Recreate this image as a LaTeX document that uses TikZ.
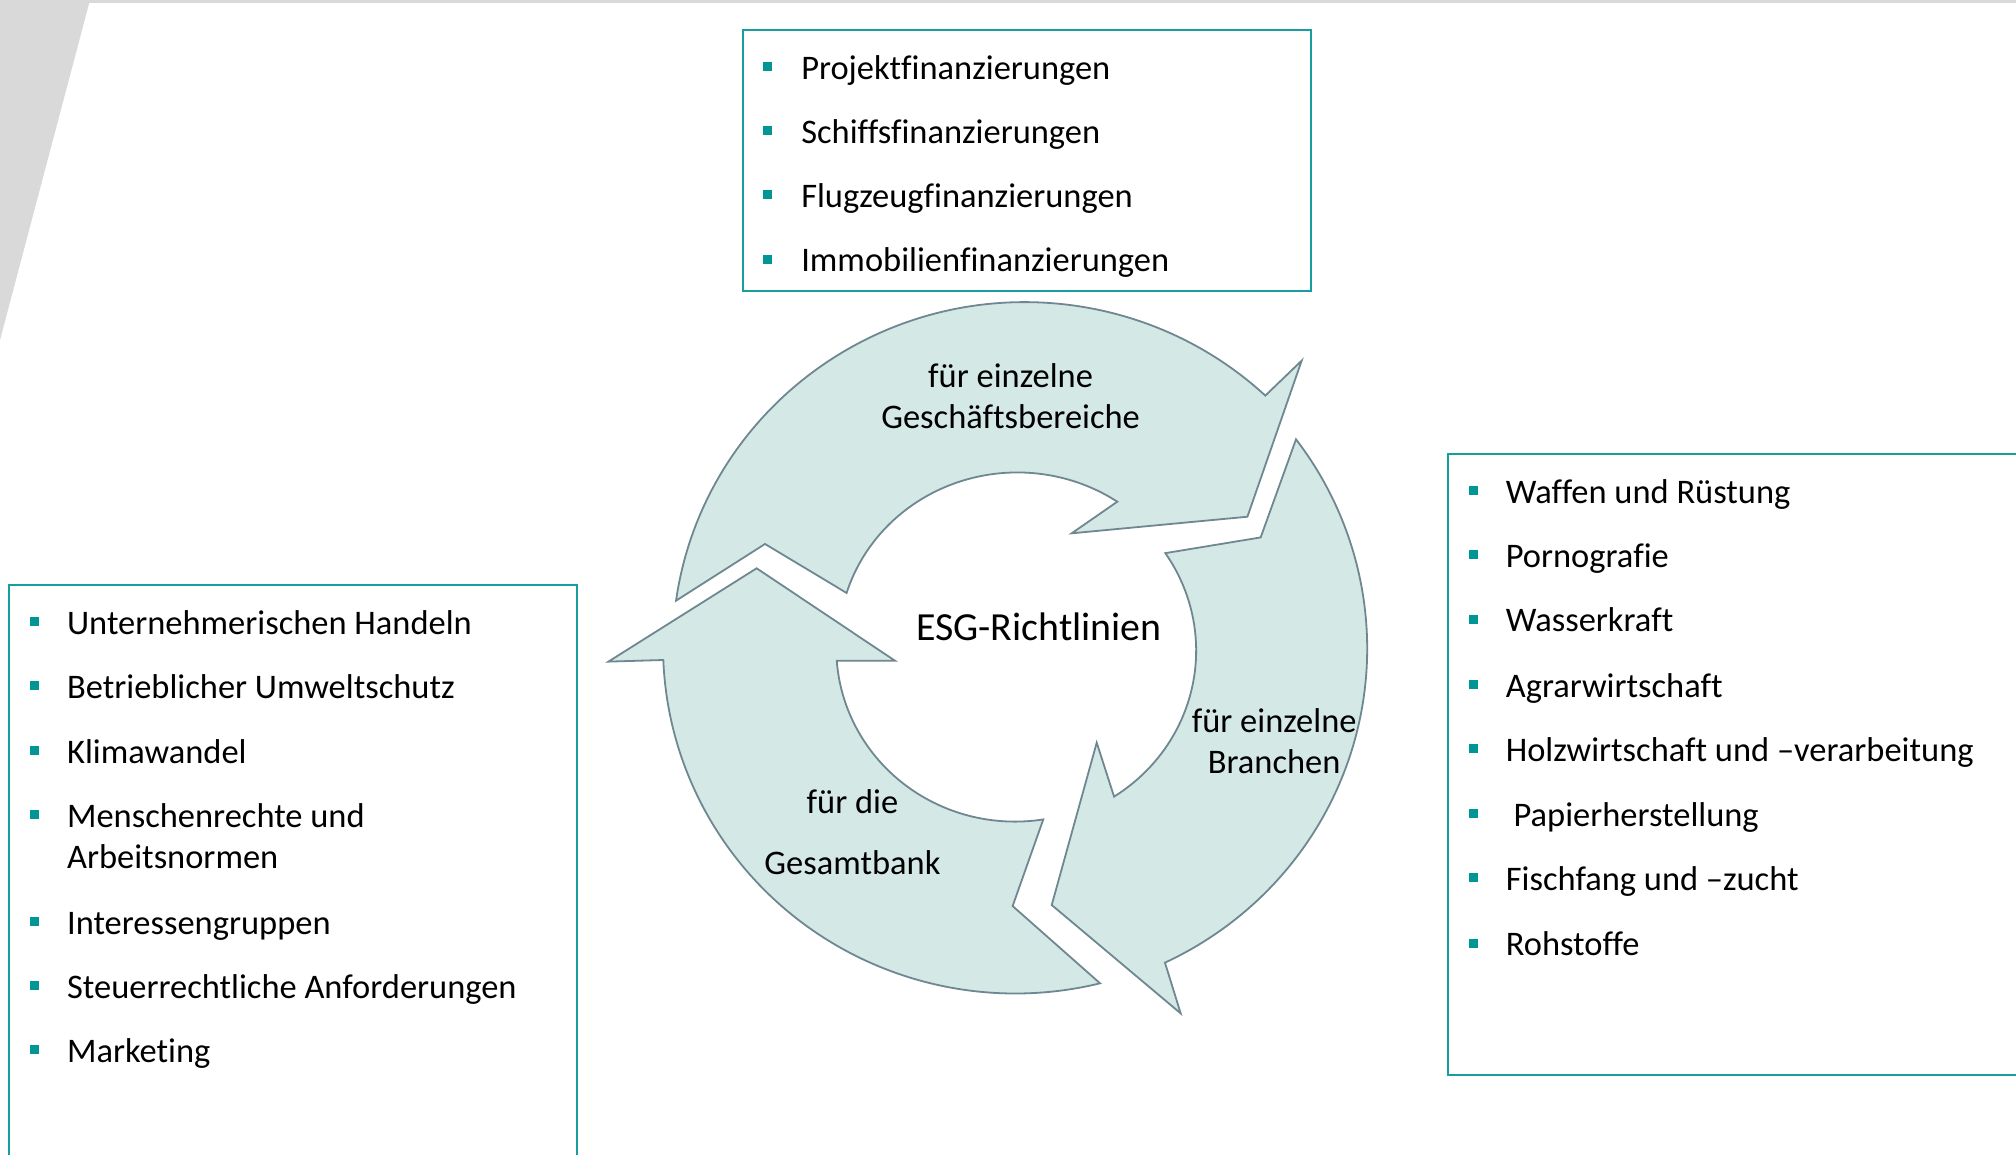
\documentclass[tikz,border=0pt]{standalone}
\usepackage{fontspec}
\setmainfont[Ligatures=CommonOff]{Carlito}
\definecolor{boxteal}{RGB}{22,158,160}
\definecolor{bulteal}{RGB}{0,150,150}
\definecolor{arrfill}{RGB}{212,232,229}
\definecolor{arrline}{RGB}{110,135,145}
\definecolor{bggray}{RGB}{217,217,217}
\begin{document}
\begin{tikzpicture}[x=1pt,y=1pt,
  txt/.style={font=\fontsize{26.8}{32}\selectfont, inner sep=0pt, anchor=base west},
  lbl/.style={font=\fontsize{26.8}{32}\selectfont, inner sep=0pt, anchor=base},
  bul/.style={fill=bulteal, minimum size=7pt, inner sep=0pt, draw=none},
  listbox/.style={draw=boxteal, line width=1.5pt},
  arr/.style={fill=arrfill, draw=arrline, line width=1.4pt, line join=miter}]
\useasboundingbox (0,0) rectangle (1568,898);
\clip (0,0) rectangle (1568,898);
% background decoration
\fill[bggray] (0,898) -- (70,898) -- (0,633.5) -- cycle;
\fill[bggray] (0,895.7) rectangle (1568,898);

% cycle arrows
\draw[arr] (525.8,430.8) arc[start angle=171.95, end angle=46.95, x radius=274, y radius=270]
  -- (1012.4,617.5) -- (970.2,496.1) -- (833.5,483.2) -- (869,507.8)
  arc[start angle=56.0, end angle=162.83, x radius=139, y radius=133]
  -- (595,474.9) -- cycle;
\draw[arr] (1008,556.3) arc[start angle=37.07, end angle=-64.79, x radius=274, y radius=270]
  -- (918.3,109.8) -- (818,194.1) -- (853,320.4) -- (866.5,278.4)
  arc[start angle=-57.27, end angle=34.17, x radius=139, y radius=135]
  -- (980.5,480) -- cycle;
\draw[arr] (855.6,133.2) arc[start angle=-76.08, end angle=-177.75, x radius=274, y radius=270]
  -- (473.2,383.4) -- (588.5,456) -- (696.1,384.1) -- (650.8,384.1)
  arc[start angle=-175.81, end angle=-80.89, x radius=139, y radius=135]
  -- (787.6,193.3) -- cycle;

% cycle labels
\node[lbl] (g1) at (786,596.5) {für einzelne};
\node[lbl] (g2) at (786,564.5) {Geschäftsbereiche};
\node[lbl, font=\fontsize{31}{37}\selectfont] (esg) at (808,400) {ESG-Richtlinien};
\node[lbl] (b1) at (991,328.5) {für einzelne};
\node[lbl] (b2) at (991,296.5) {Branchen};
\node[lbl] (s1) at (663,265.5) {für die};
\node[lbl] (s2) at (663,217.5) {Gesamtbank};

% top box
\draw[listbox] (578,875) rectangle (1020,672);
\foreach \yy/\tt [count=\i] in {836.5/Projektfinanzierungen,786.5/Schiffsfinanzierungen,736.5/Flugzeugfinanzierungen,686.5/Immobilienfinanzierungen}{
  \node[bul] (tb\i) at (597,\yy+10) {};
  \node[txt] (tt\i) at (623,\yy) {\tt};
}

% left box
\draw[listbox] (7,443) rectangle (449,-20);
\foreach \yy/\tt [count=\i] in {404.5/Unternehmerischen Handeln,354.5/Betrieblicher Umweltschutz,304.5/Klimawandel,254.5/Menschenrechte und,171.5/Interessengruppen,121.5/Steuerrechtliche Anforderungen,71.5/Marketing}{
  \node[bul] (lb\i) at (27,\yy+10) {};
  \node[txt] (lt\i) at (52,\yy) {\tt};
}
\node[txt] (lt4b) at (52,222.5) {Arbeitsnormen};

% right box
\draw[listbox] (1126,545) rectangle (1590,62);
\foreach \yy/\tt [count=\i] in {506.5/Waffen und Rüstung,456.5/Pornografie,406.5/Wasserkraft,355.5/Agrarwirtschaft,305.5/Holzwirtschaft und –verarbeitung,255.5/{\ Papierherstellung},205.5/Fischfang und –zucht,154.5/Rohstoffe}{
  \node[bul] (rb\i) at (1146,\yy+10) {};
  \node[txt] (rt\i) at (1171,\yy) {\tt};
}
\end{tikzpicture}
\end{document}
